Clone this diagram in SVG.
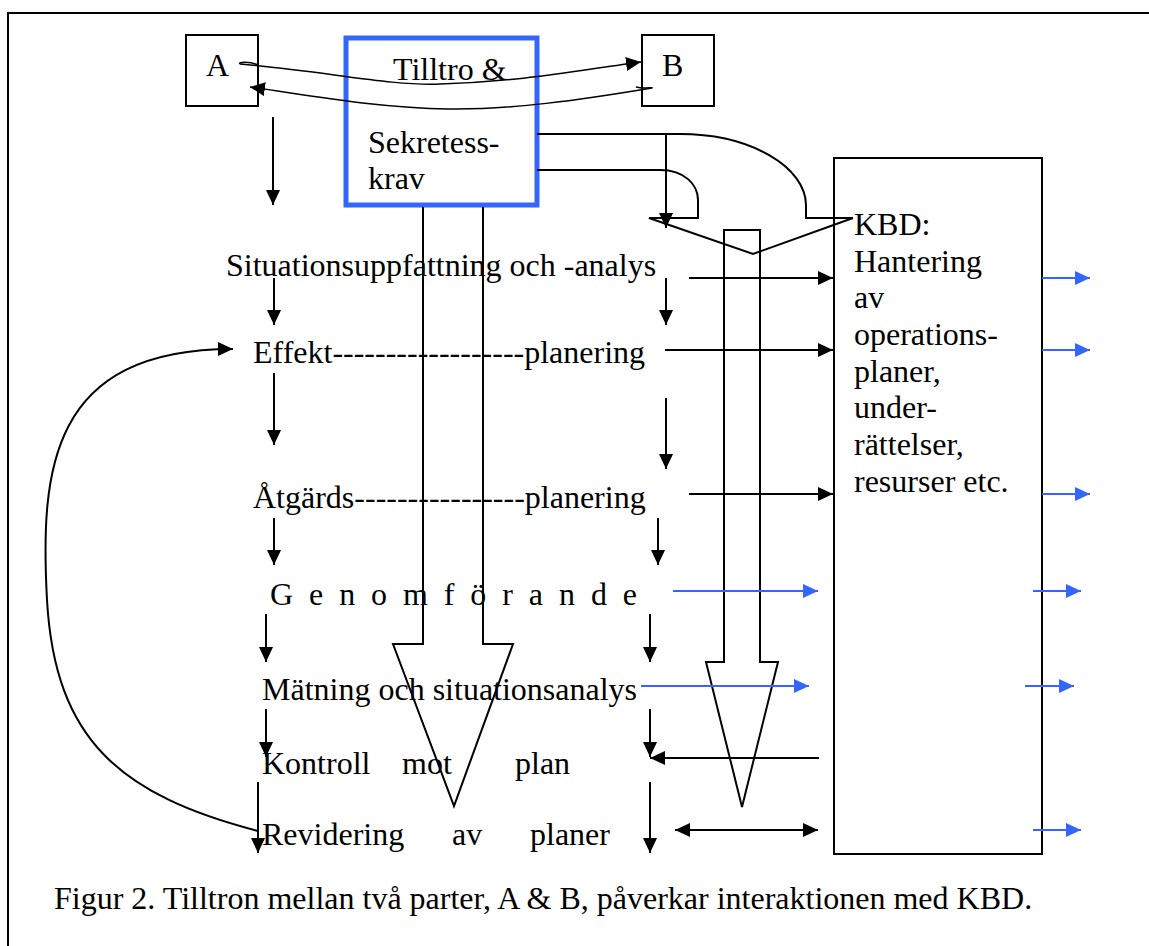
<svg xmlns="http://www.w3.org/2000/svg" width="1149" height="946" viewBox="0 0 1149 946">
<defs>
<marker id="ah" viewBox="0 0 15 14" refX="15" refY="7" markerWidth="15" markerHeight="14" markerUnits="userSpaceOnUse" orient="auto-start-reverse"><path d="M0,0 L15,7 L0,14 z" fill="#000"/></marker>
<marker id="ahb" viewBox="0 0 15 14" refX="15" refY="7" markerWidth="15" markerHeight="14" markerUnits="userSpaceOnUse" orient="auto"><path d="M0,0 L15,7 L0,14 z" fill="#3366FF"/></marker>
</defs>
<style>
text{font-family:"Liberation Serif","Times New Roman",serif;font-size:32px;fill:#000}
.box{fill:none;stroke:#000;stroke-width:2}
.ln{fill:none;stroke:#000;stroke-width:2}
.thin{fill:none;stroke:#000;stroke-width:1.5}
.ar{fill:none;stroke:#000;stroke-width:2;marker-end:url(#ah)}
.arb{fill:none;stroke:#3366FF;stroke-width:2;marker-end:url(#ahb)}
</style>
<rect width="1149" height="946" fill="#fff"/>
<rect x="8" y="13" width="1170" height="980" fill="none" stroke="#000" stroke-width="2"/>

<g id="node-A"><rect class="box" x="186" y="35" width="72" height="71"/><text x="206" y="76">A</text></g>
<g id="node-B"><rect class="box" x="642" y="35" width="72" height="71"/><text x="662" y="76">B</text></g>
<g id="node-tilltro"><rect x="346" y="38" width="191" height="167" fill="none" stroke="#3366FF" stroke-width="5"/>
<text x="393" y="80">Tilltro &amp;</text><text x="368" y="153">Sekretess-</text><text x="368" y="189">krav</text></g>
<g id="node-KBD"><rect class="box" x="834" y="158" width="208" height="696"/>
<text x="854" y="235">KBD:</text><text x="854" y="272">Hantering</text><text x="854" y="308">av</text><text x="854" y="345">operations-</text><text x="854" y="382">planer,</text><text x="854" y="418">under-</text><text x="854" y="455">rättelser,</text><text x="854" y="492">resurser etc.</text></g>

<g id="connectors">
<path class="thin" d="M258,65 C250,61 237,62 240,64"/>
<path d="M240,64 C330,72 390,86 440,84 C520,82 580,70 641,62" fill="none" stroke="#000" stroke-width="1.5" marker-end="url(#ah)"/>
<path class="thin" d="M636,87 C644,89 654,87 652,88"/>
<path d="M652,88 C580,100 510,110 448,109 C380,108 320,97 250,87" fill="none" stroke="#000" stroke-width="1.5" marker-end="url(#ah)"/>
<path class="ln" d="M537,134 L680,134 C752,134 806,168 806,205 L806,218 L853,218"/>
<path class="ln" d="M537,170 L660,170 C685,170 698,185 698,200 L698,218 L649,218 L753,254 L853,218"/>
<line class="ar" x1="666" y1="134" x2="666" y2="228"/>
<path class="ln" d="M423,207 L423,644 L393,644 L454,806 L513,644 L483,644 L483,207"/>
<path class="ln" d="M724,662 L724,230 L760,230 L760,662 L778,662 L742,807 L706,662 Z"/>
<line class="ar" x1="273" y1="117" x2="273" y2="205"/>
<line class="ar" x1="274" y1="278" x2="274" y2="325"/>
<line class="ar" x1="274" y1="373" x2="274" y2="445"/>
<line class="ar" x1="274" y1="518" x2="274" y2="565"/>
<line class="ar" x1="266" y1="614" x2="266" y2="662"/>
<line class="ar" x1="266" y1="709" x2="266" y2="757"/>
<line class="ar" x1="258" y1="782" x2="258" y2="853"/>
<line class="ar" x1="666" y1="278" x2="666" y2="325"/>
<line class="ar" x1="666" y1="398" x2="666" y2="469"/>
<line class="ar" x1="658" y1="518" x2="658" y2="565"/>
<line class="ar" x1="650" y1="614" x2="650" y2="662"/>
<line class="ar" x1="650" y1="709" x2="650" y2="757"/>
<line class="ar" x1="650" y1="782" x2="650" y2="853"/>
<line class="ar" x1="689" y1="278" x2="833" y2="278"/>
<line class="ar" x1="665" y1="350" x2="833" y2="350"/>
<line class="ar" x1="689" y1="494" x2="833" y2="494"/>
<line class="arb" x1="673" y1="591" x2="818" y2="591"/>
<line class="arb" x1="641" y1="686" x2="809" y2="686"/>
<line class="ar" x1="819" y1="758" x2="650" y2="758"/>
<line class="ar" x1="675" y1="830" x2="818" y2="830" style="marker-start:url(#ah)"/>
<line class="arb" x1="1042" y1="278" x2="1090" y2="278"/>
<line class="arb" x1="1042" y1="350" x2="1090" y2="350"/>
<line class="arb" x1="1042" y1="494" x2="1090" y2="494"/>
<line class="arb" x1="1033" y1="591" x2="1081" y2="591"/>
<line class="arb" x1="1025" y1="686" x2="1074" y2="686"/>
<line class="arb" x1="1033" y1="830" x2="1081" y2="830"/>
<path class="ar" d="M258,831 C120,795 55,740 47,600 C40,470 50,349 233,349"/>
</g>

<g id="process-labels">
<text x="226" y="276">Situationsuppfattning och -analys</text>
<text x="253" y="363">Effekt------------------planering</text>
<text x="253" y="508">Åtgärds----------------planering</text>
<text x="270" y="605" textLength="367" lengthAdjust="spacing">G e n o m f ö r a n d e</text>
<text x="262" y="700">Mätning och situationsanalys</text>
<text y="774"><tspan x="262">Kontroll</tspan><tspan x="402">mot</tspan><tspan x="515">plan</tspan></text>
<text y="845"><tspan x="262">Revidering</tspan><tspan x="452">av</tspan><tspan x="530">planer</tspan></text>
</g>
<text id="caption" x="54" y="909">Figur 2. Tilltron mellan två parter, A &amp; B, påverkar interaktionen med KBD.</text>
</svg>
